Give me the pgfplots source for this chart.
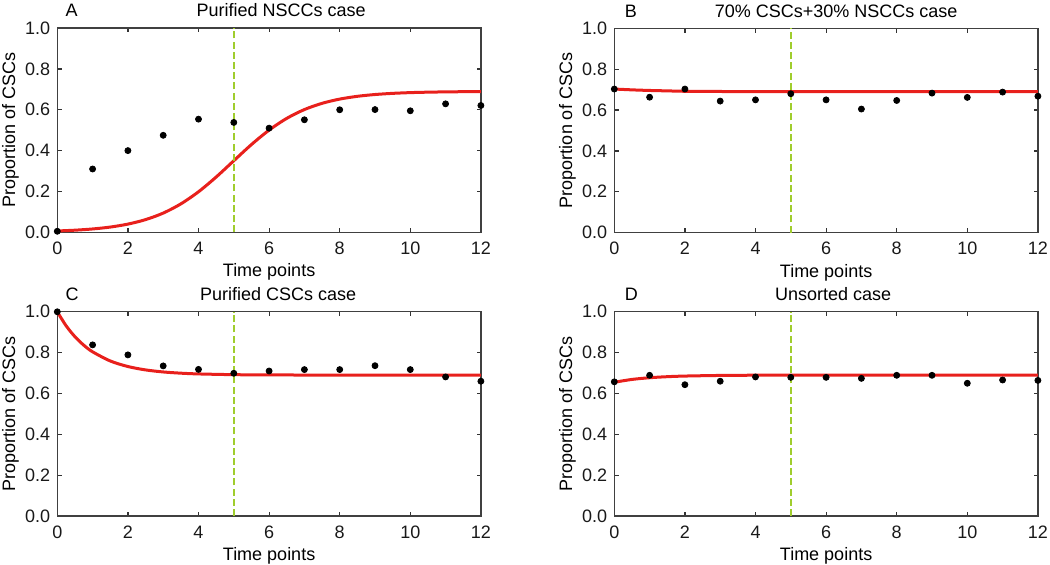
\documentclass[border=0pt]{standalone}
\usepackage{fontspec}
\setmainfont{Liberation Sans}
\usepackage{pgfplots}
\pgfplotsset{compat=1.18}
\definecolor{fitred}{RGB}{232,32,28}
\definecolor{vgreen}{RGB}{160,205,45}
\pgfplotsset{panel/.style={
  scale only axis, width=211.8pt, height=102.1pt,
  xmin=0,xmax=12,ymin=0,ymax=1,
  xtick={0,2,4,6,8,10,12}, ytick={0,0.2,0.4,0.6,0.8,1.0},
  tick align=inside, major tick length=2.2pt,
  every tick/.style={black!80, line width=0.6pt},
  axis line style={black!75, line width=0.7pt},
  yticklabel style={/pgf/number format/.cd,fixed,fixed zerofill,precision=1},
  /pgf/number format/assume math mode=true,
  tick label style={font=\fontsize{9}{10}\selectfont, black!90},
  xticklabel style={yshift=-1.3pt},
  xlabel={Time points}, ylabel={Proportion of CSCs},
  xlabel style={font=\fontsize{9}{10}\selectfont, at={(axis description cs:0.5,-0.218)}, anchor=base},
  ylabel style={font=\fontsize{9}{10}\selectfont, at={(axis description cs:-0.0995,0.5)}, anchor=base},
  every axis title/.style={font=\fontsize{9}{10}\selectfont, at={(axis description cs:0.5,1)}, anchor=base, yshift=5.6pt},
  clip=false,
  dots/.style={only marks, mark=*, mark size=1.5pt, black},
  fit/.style={no marks, fitred, line width=1.5pt, smooth},
  vline/.style={no marks, vgreen, line width=0.8pt, dash pattern=on 3.5pt off 1.6pt},
}}
\begin{document}
\begin{tikzpicture}
\useasboundingbox (0,0) rectangle (525pt,-282.5pt);
% Panel A
\begin{axis}[panel, at={(28.65pt,-116.15pt)}, anchor=south west,
  title={Purified NSCCs case}, title style={xshift=6pt}]
\addplot[dots] coordinates {(0,0.005) (1,0.31) (2,0.40) (3,0.475) (4,0.554) (5,0.538) (6,0.51) (7,0.551) (8,0.60) (9,0.601) (10,0.595) (11,0.629) (12,0.621)};
\addplot[fit] coordinates {(0,0.0065) (0.5,0.0103) (1,0.0163) (1.5,0.0256) (2,0.0401) (2.5,0.0620) (3,0.0940) (3.5,0.1391) (4,0.1984) (4.5,0.2706) (5,0.3504) (5.5,0.4297) (6,0.5004) (6.5,0.5579) (7,0.6010) (7.5,0.6315) (8,0.6523) (8.5,0.6659) (9,0.6747) (9.5,0.6804) (10,0.6840) (10.5,0.6862) (11,0.6876) (11.5,0.6885) (12,0.6891)};
\addplot[vline] coordinates {(5,0) (5,1)};
\node[anchor=base west, font=\fontsize{9}{10}\selectfont] at ([yshift=5.6pt]axis description cs:0.003,1) {A};
\end{axis}
% Panel B
\begin{axis}[panel, at={(307.15pt,-116.3pt)}, anchor=south west,
  title={70\% CSCs+30\% NSCCs case}, title style={xshift=5pt}]
\addplot[dots] coordinates {(0,0.703) (1,0.663) (2,0.703) (3,0.644) (4,0.650) (5,0.68) (6,0.650) (7,0.605) (8,0.647) (9,0.683) (10,0.662) (11,0.688) (12,0.668)};
\addplot[fit] coordinates {(0,0.703) (0.5,0.699) (1,0.696) (1.5,0.694) (2,0.692) (3,0.691) (4,0.690) (6,0.690) (8,0.690) (10,0.690) (12,0.690)};
\addplot[vline] coordinates {(5,0) (5,1)};
\node[anchor=base west, font=\fontsize{9}{10}\selectfont] at ([yshift=5.6pt]axis description cs:0.008,1) {B};
\end{axis}
% Panel C
\begin{axis}[panel, at={(28.65pt,-258pt)}, anchor=south west,
  title={Purified CSCs case}, title style={xshift=4.5pt}]
\addplot[dots] coordinates {(0,1.0) (1,0.838) (2,0.789) (3,0.735) (4,0.718) (5,0.699) (6,0.710) (7,0.717) (8,0.717) (9,0.736) (10,0.717) (11,0.681) (12,0.660)};
\addplot[fit] coordinates {(0,1.0) (0.25,0.9314) (0.5,0.8780) (0.75,0.8364) (1,0.8040) (1.5,0.7592) (2,0.7320) (2.5,0.7154) (3,0.7054) (3.5,0.6994) (4,0.6957) (5,0.6921) (6,0.6908) (8,0.6901) (10,0.6900) (12,0.6900)};
\addplot[vline] coordinates {(5,0) (5,1)};
\node[anchor=base west, font=\fontsize{9}{10}\selectfont] at ([yshift=5.6pt]axis description cs:0.003,1) {C};
\end{axis}
% Panel D
\begin{axis}[panel, at={(307.15pt,-258pt)}, anchor=south west,
  title={Unsorted case}, title style={xshift=3.5pt}]
\addplot[dots] coordinates {(0,0.657) (1,0.689) (2,0.643) (3,0.660) (4,0.681) (5,0.679) (6,0.679) (7,0.674) (8,0.689) (9,0.689) (10,0.650) (11,0.666) (12,0.664)};
\addplot[fit] coordinates {(0,0.655) (0.5,0.6688) (1,0.6771) (1.5,0.6822) (2,0.6853) (3,0.6883) (4,0.6894) (6,0.6899) (8,0.6900) (10,0.6900) (12,0.6900)};
\addplot[vline] coordinates {(5,0) (5,1)};
\node[anchor=base west, font=\fontsize{9}{10}\selectfont] at ([yshift=5.6pt]axis description cs:0.008,1) {D};
\end{axis}
\end{tikzpicture}
\end{document}
